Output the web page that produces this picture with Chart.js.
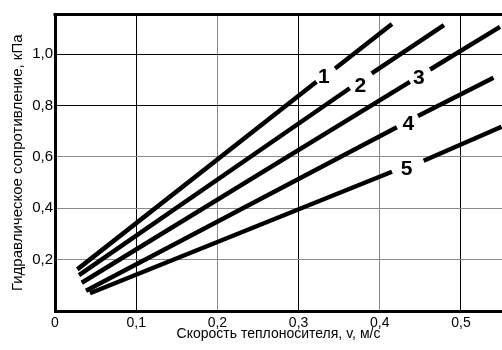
<!DOCTYPE html>
<html>
<head>
<meta charset="utf-8">
<script src="https://cdn.jsdelivr.net/npm/chart.js@4/dist/chart.umd.min.js"></script>
<style>
html,body{margin:0;padding:0;background:#fff;overflow:hidden;}
canvas{display:block;}
</style>
</head>
<body>
<canvas id="c" width="502" height="350"></canvas>
<script>
// Curves: each is a lower segment and an upper segment (gap holds the number label)
const curve1 = [[0.0275, 0.162], [0.322, 0.892], null, [0.345, 0.944], [0.415, 1.117]];
const curve2 = [[0.0296, 0.140], [0.363, 0.867], null, [0.390, 0.925], [0.479, 1.113]];
const curve3 = [[0.0329, 0.110], [0.437, 0.892], null, [0.462, 0.940], [0.548, 1.106]];
const curve4 = [[0.0382, 0.079], [0.421, 0.715], null, [0.447, 0.759], [0.540, 0.908]];
const curve5 = [[0.0431, 0.069], [0.415, 0.542], null, [0.454, 0.585], [0.550, 0.717]];
const curveNames = ['1', '2', '3', '4', '5'];
const labelX = [0.331, 0.376, 0.448, 0.435, 0.433];
const labelY = [0.911, 0.875, 0.907, 0.728, 0.553];
const xTicks = [0, 0.1, 0.2, 0.3, 0.4, 0.5];
const yTicks = [0.2, 0.4, 0.6, 0.8, 1.0];
const xTitle = 'Скорость теплоносителя, v, м/с';
const yTitle = 'Гидравлическое сопротивление, кПа';

function toPoints(c) {
  const pts = [];
  for (let i = 0; i < c.length; i++) {
    if (c[i] === null) {
      const prev = c[i - 1], next = c[i + 1];
      pts.push({ x: (prev[0] + next[0]) / 2, y: null });
    } else {
      pts.push({ x: c[i][0], y: c[i][1] });
    }
  }
  return pts;
}
const curves = [curve1, curve2, curve3, curve4, curve5];
const fmt = v => (Math.abs(v) < 1e-9 ? '0' : v.toFixed(1).replace('.', ','));

const darkX = [0.1, 0.3, 0.5];
const darkY = [0.8, 1.0];
const near = (a, list) => list.some(b => Math.abs(a - b) < 1e-6);

const extras = {
  id: 'extras',
  afterDatasetsDraw(chart) {
    const ctx = chart.ctx, a = chart.chartArea;
    const xs = chart.scales.x, ys = chart.scales.y;
    ctx.save();
    // top frame line
    ctx.strokeStyle = '#000';
    ctx.lineWidth = 3;
    ctx.beginPath();
    ctx.moveTo(a.left - 1.5, a.top);
    ctx.lineTo(a.right, a.top);
    ctx.stroke();
    // curve numbers
    ctx.fillStyle = '#000';
    ctx.font = 'bold 21px "Liberation Sans", Arial, sans-serif';
    ctx.textAlign = 'center';
    ctx.textBaseline = 'middle';
    curveNames.forEach((n, i) => {
      ctx.fillText(n, xs.getPixelForValue(labelX[i]), ys.getPixelForValue(labelY[i]));
    });
    ctx.restore();
  }
};

new Chart(document.getElementById('c'), {
  type: 'line',
  data: {
    datasets: curves.map((c, i) => ({
      label: curveNames[i],
      data: toPoints(c),
      borderColor: '#000',
      borderWidth: 4.5,
      borderCapStyle: 'butt',
      pointRadius: 0,
      tension: 0,
      spanGaps: false,
      fill: false
    }))
  },
  options: {
    responsive: false,
    devicePixelRatio: 1,
    animation: false,
    events: [],
    layout: { padding: { top: 14.5, right: 0, left: 0, bottom: 0 } },
    plugins: { legend: { display: false }, tooltip: { enabled: false } },
    scales: {
      x: {
        type: 'linear',
        min: 0,
        max: 0.5505,
        afterBuildTicks: s => { s.ticks = xTicks.map(v => ({ value: v })); },
        afterFit: s => { s.height = 39; },
        ticks: {
          includeBounds: false,
          color: '#000',
          padding: 4,
          maxRotation: 0,
          autoSkip: false,
          font: { family: '"Liberation Sans", Arial, sans-serif', size: 14 },
          callback: v => fmt(v)
        },
        grid: {
          drawTicks: false,
          lineWidth: 1,
          color: c => (near(c.tick.value, darkX) ? '#000' : '#8a8a8a')
        },
        border: { display: true, color: '#000', width: 3 },
        title: {
          display: true,
          text: xTitle,
          color: '#000',
          padding: { top: 7.5, bottom: 7.5 },
          font: { family: '"Liberation Sans", Arial, sans-serif', size: 14 }
        }
      },
      y: {
        type: 'linear',
        min: 0,
        max: 1.154,
        afterBuildTicks: s => { s.ticks = yTicks.map(v => ({ value: v })); },
        afterFit: s => { s.width = 55; },
        ticks: {
          includeBounds: false,
          color: '#000',
          padding: 2,
          autoSkip: false,
          font: { family: '"Liberation Sans", Arial, sans-serif', size: 15 },
          callback: v => fmt(v)
        },
        grid: {
          drawTicks: false,
          lineWidth: 1,
          color: c => (near(c.tick.value, darkY) ? '#000' : '#8a8a8a')
        },
        border: { display: true, color: '#000', width: 3 },
        title: {
          display: true,
          text: yTitle,
          color: '#000',
          padding: { top: 9, bottom: 9 },
          font: { family: '"Liberation Sans", Arial, sans-serif', size: 15 }
        }
      }
    }
  },
  plugins: [extras]
});
</script>
</body>
</html>
